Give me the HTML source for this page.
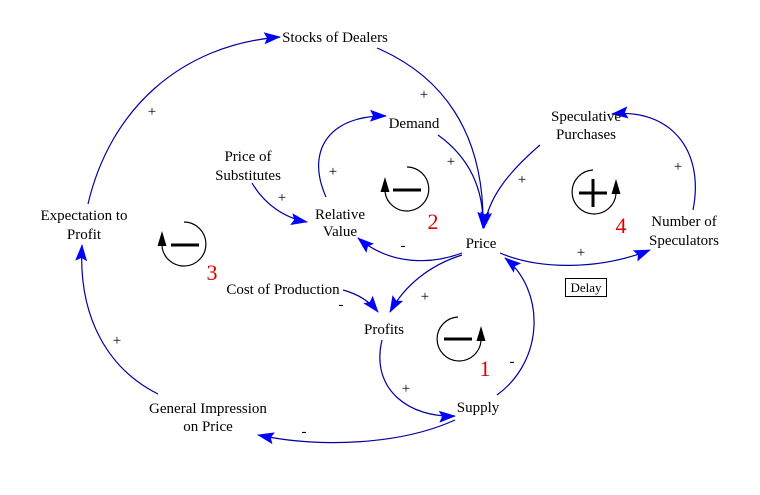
<!DOCTYPE html>
<html><head><meta charset="utf-8"><style>
html,body{margin:0;padding:0;background:#fff;}
svg{display:block;}
text{font-family:"Liberation Serif","Times New Roman",serif;font-size:15px;fill:#000;}
.n{fill:#e00000;font-size:22px;}
.s{font-size:13px;}
</style></head><body>
<svg width="760" height="495" viewBox="0 0 760 495" xmlns="http://www.w3.org/2000/svg" font-family="Liberation Serif, serif">
<defs>
<marker id="a" markerWidth="17" markerHeight="12" refX="16" refY="6" orient="auto" markerUnits="userSpaceOnUse">
<path d="M0,0 L17,6 L0,12 L3,6 Z" fill="#0000ff"/></marker>
</defs>
<g fill="none" stroke="#0000a0" stroke-width="1.2" marker-end="url(#a)">
<path d="M88,204 C110,110 180,45 280,37"/>
<path d="M377,48 C440,75 485,130 483,228"/>
<path d="M326,197 C305,150 330,115 386,116"/>
<path d="M438,135 C470,158 484,190 483,228"/>
<path d="M540,145 C505,175 488,200 484,228"/>
<path d="M693,210 C705,150 670,108 612,114"/>
<path d="M500,253 C540,270 600,270 650,250"/>
<path d="M462,253 C430,265 390,265 358,238"/>
<path d="M462,255 C430,265 405,285 390,312"/>
<path d="M343,290 C358,294 370,302 378,312"/>
<path d="M382,340 C370,390 410,418 455,416"/>
<path d="M497,395 C545,360 545,290 505,258"/>
<path d="M455,420 C400,445 320,448 258,435"/>
<path d="M158,394 C110,370 78,320 82,245"/>
<path d="M252,183 C265,205 285,218 307,222"/>
</g>
<g fill="none" stroke="#000" stroke-width="1.2">
<path d="M184,222 A22,22 0 1 1 162,246"/>
<path d="M407,167 A22,22 0 1 1 385,192"/>
<path d="M593,170 A22,22 0 1 0 616,194"/>
<path d="M458,317 A22,22 0 1 0 481,341"/>
</g>
<g fill="#000">
<polygon points="162,231 157.5,246 166.5,246"/>
<polygon points="385,177 380.5,192 389.5,192"/>
<polygon points="616,179 611.5,194 620.5,194"/>
<polygon points="481,326 476.5,341 485.5,341"/>
</g>
<g stroke="#000" stroke-width="3">
<line x1="171" y1="245" x2="199" y2="245"/>
<line x1="393" y1="190" x2="421" y2="190"/>
<line x1="579" y1="193" x2="607" y2="193"/>
<line x1="593" y1="179" x2="593" y2="207"/>
<line x1="444" y1="339" x2="472" y2="339"/>
</g>
<rect x="565.5" y="278.5" width="41" height="18" fill="none" stroke="#000"/>
<text x="586" y="292" text-anchor="middle" class="s">Delay</text>
<g text-anchor="middle">
<text x="335" y="42">Stocks of Dealers</text>
<text x="84" y="220">Expectation to</text>
<text x="84" y="239">Profit</text>
<text x="248" y="161">Price of</text>
<text x="248" y="180">Substitutes</text>
<text x="340" y="219">Relative</text>
<text x="340" y="236">Value</text>
<text x="414" y="128">Demand</text>
<text x="586" y="121">Speculative</text>
<text x="586" y="139">Purchases</text>
<text x="481" y="248">Price</text>
<text x="684" y="226">Number of</text>
<text x="684" y="245">Speculators</text>
<text x="283" y="294">Cost of Production</text>
<text x="384" y="334">Profits</text>
<text x="478" y="412">Supply</text>
<text x="208" y="413">General Impression</text>
<text x="208" y="431">on Price</text>
<text x="152" y="116">+</text>
<text x="424" y="99">+</text>
<text x="333" y="176">+</text>
<text x="451" y="166">+</text>
<text x="522" y="184">+</text>
<text x="678" y="171">+</text>
<text x="581" y="257">+</text>
<text x="403" y="250">-</text>
<text x="425" y="301">+</text>
<text x="341" y="309">-</text>
<text x="406" y="393">+</text>
<text x="512" y="366">-</text>
<text x="304" y="436">-</text>
<text x="117" y="345">+</text>
<text x="282" y="202">+</text>
<text class="n" x="212" y="280">3</text>
<text class="n" x="433" y="229">2</text>
<text class="n" x="621" y="233">4</text>
<text class="n" x="485" y="376">1</text>
</g>
</svg>
</body></html>
